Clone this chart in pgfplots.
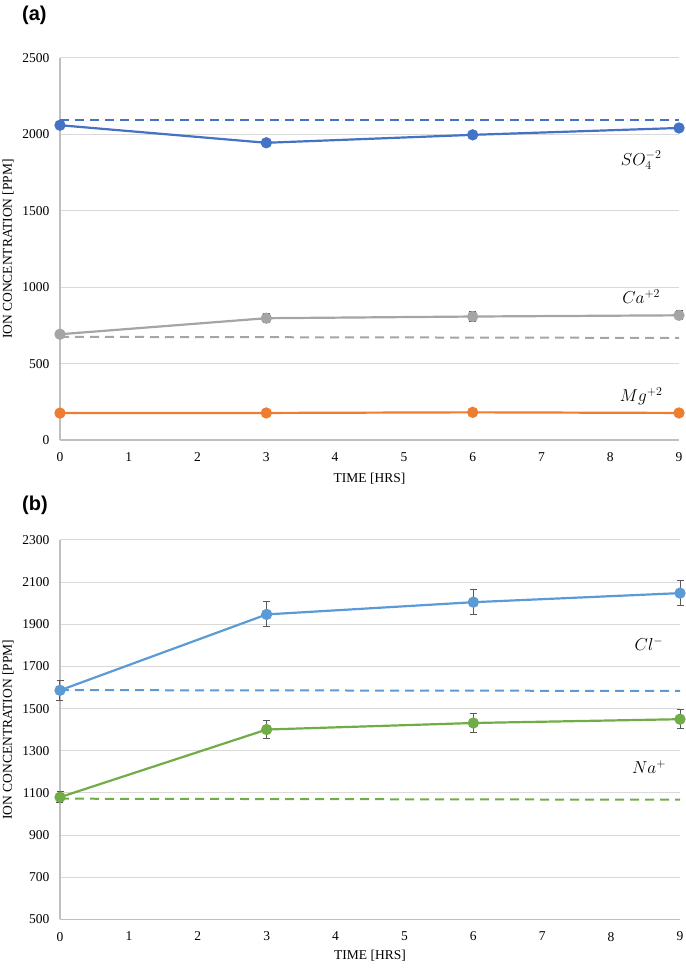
\documentclass[border=0pt]{standalone}
\usepackage{pgfplots}
\pgfplotsset{compat=1.18}
\usepackage{fontspec}
\setmainfont{Liberation Serif}
\newfontfamily\headfont{Liberation Sans}
\definecolor{cSO}{HTML}{4472C4}
\definecolor{cCa}{HTML}{A5A5A5}
\definecolor{cMg}{HTML}{ED7D31}
\definecolor{cCl}{HTML}{5B9BD5}
\definecolor{cNa}{HTML}{70AD47}
\definecolor{gridc}{HTML}{D9D9D9}
\definecolor{axc}{HTML}{BFBFBF}
\definecolor{errc}{HTML}{595959}
\tikzset{lab/.style={font=\fontsize{17}{19}\selectfont}}
\pgfplotsset{
  base/.style={
    scale only axis, clip=false,
    axis x line=bottom, axis y line=left,
    axis line style={draw=axc, line width=1.2pt, -},
    xmin=0, xmax=9, xtick={0,1,...,9},
    major tick length=0pt,
    ymajorgrids, grid style={draw=gridc, line width=1pt},
    tick label style={font=\fontsize{13.5}{16}\selectfont},
    label style={font=\fontsize{13.5}{16}\selectfont},
    /pgf/number format/assume math mode=true,
    /pgf/number format/1000 sep={},
    yticklabel style={xshift=-7pt},
    xticklabel style={yshift=-9pt},
    ylabel style={at={(axis description cs:-0.084,0.5)}, anchor=center},
    xlabel={TIME [HRS]},
    ylabel={ION CONCENTRATION [PPM]},
  },
  sol/.style={line width=2.2pt, mark=*, mark size=4.5pt, mark options={solid}},
  dsh/.style={line width=2pt, dash pattern=on 9pt off 6pt, mark=none},
  eb/.style={error bars/.cd, y dir=both, y explicit,
    error bar style={color=errc, line width=1pt},
    error mark options={rotate=90, mark size=3.5pt, color=errc, line width=1pt}},
}
\begin{document}
\begin{tikzpicture}[x=1pt,y=1pt]
\useasboundingbox (0,0) rectangle (685,968);
\node[anchor=west, font=\headfont\bfseries\fontsize{20}{22}\selectfont, inner sep=0pt] at (22,953) {(a)};
\node[anchor=west, font=\headfont\bfseries\fontsize{20}{22}\selectfont, inner sep=0pt] at (22,463) {(b)};

\begin{axis}[base, at={(60pt,528pt)}, anchor=south west, width=619pt, height=382pt,
  ymin=0, ymax=2500, ytick={0,500,...,2500},
  xlabel style={at={(axis description cs:0.5,0)}, anchor=center, yshift=-39pt}]
\addplot[cSO, dsh] coordinates {(0,2095) (9,2095)};
\addplot[cCa, dsh] coordinates {(0,675) (9,668)};
\addplot[cSO, sol, eb] table[x=x, y=y, y error=e] {
x y e
0 2060 12
3 1945 14
6 1997 14
9 2042 14
};
\addplot[cCa, sol, eb] table[x=x, y=y, y error=e] {
x y e
0 692 20
3 797 30
6 808 30
9 816 30
};
\addplot[cMg, sol] table[x=x, y=y] {
x y
0 176
3 177
6 181
9 177
};
\node[lab] at (axis cs:8.45,1830) {$SO_4^{-2}$};
\node[lab] at (axis cs:8.45,940) {$Ca^{+2}$};
\node[lab] at (axis cs:8.45,285) {$Mg^{+2}$};
\end{axis}

\begin{axis}[base, at={(60pt,48.5pt)}, anchor=south west, width=620pt, height=379.5pt,
  ymin=500, ymax=2300, ytick={500,700,...,2300},
  ylabel style={at={(axis description cs:-0.0839,0.5)}},
  xlabel style={at={(axis description cs:0.5,0)}, anchor=center, yshift=-36.5pt}]
\addplot[cCl, dsh] coordinates {(0,1588) (9,1584)};
\addplot[cNa, dsh] coordinates {(0,1073) (9,1068)};
\addplot[cCl, sol, eb] table[x=x, y=y, y error=e] {
x y e
0 1587 48
3 1947 59
6 2005 60
9 2048 61
};
\addplot[cNa, sol, eb] table[x=x, y=y, y error=e] {
x y e
0 1080 26
3 1401 43
6 1432 43
9 1450 44
};
\node[lab] at (axis cs:8.55,1805) {$Cl^{-}$};
\node[lab] at (axis cs:8.55,1222) {$Na^{+}$};
\end{axis}
\end{tikzpicture}
\end{document}
